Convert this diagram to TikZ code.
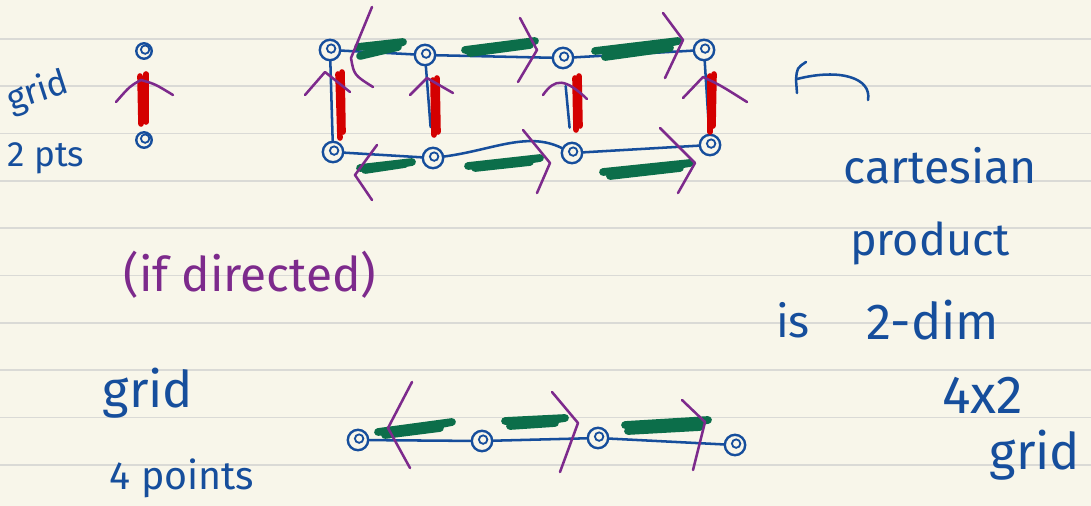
\documentclass[tikz,border=0pt]{standalone}
\usepackage{fontspec}
\setmainfont{Fira Sans}
\usepackage{tikz}
\usetikzlibrary{calc}
\definecolor{colPaper}{RGB}{248,246,234}
\definecolor{colRule}{RGB}{218,218,214}
\definecolor{colInk}{RGB}{22,78,156}
\definecolor{colHigh}{RGB}{12,110,74}
\definecolor{colDir}{RGB}{125,42,140}
\definecolor{colMark}{RGB}{212,0,0}
\tikzset{
  vertex/.style={
    draw=colInk, circle, line width=1.7pt,
    minimum size=14.5pt, inner sep=0pt,
    path picture={\draw[colInk, line width=1.3pt]
      ([shift={(0.8pt,1pt)}]path picture bounding box.center) circle (3pt);}
  },
  edge/.style={
    draw=colInk, line width=1.8pt, line cap=round
  },
  hilite/.style={
    draw=colHigh, line width=5.5pt, line cap=round, line join=round
  },
  redmark/.style={
    draw=colMark, line width=4pt, line cap=round
  },
  dirmark/.style={
    draw=colDir, line width=1.8pt, line cap=round, line join=round
  },
  note/.style={
    text=colInk, inner sep=0pt, font=\fontsize{32}{36}\selectfont
  },
  bignote/.style={
    note, font=\fontsize{36}{40}\selectfont
  },
  smallnote/.style={
    note, font=\fontsize{25}{28}\selectfont
  },
  dirnote/.style={
    note, text=colDir, font=\fontsize{34}{38}\selectfont
  },
}

\begin{document}
\begin{tikzpicture}[x=0.025cm, y=-0.025cm]

% ── Paper ──────────────────────────────────────────────────────────────────
\useasboundingbox (0,0) rectangle (1091,506);
\fill[colPaper] (0,0) rectangle (1091,506);
\foreach \k in {0,...,9}
  \draw[colRule, line width=1.2pt] (0,{39+47.3*\k}) -- (1091,{39+47.3*\k});

% ── Nodes ──────────────────────────────────────────────────────────────────
% 2 point grid
\node[vertex, minimum size=11pt] (p1) at (144,51)  {};
\node[vertex, minimum size=11pt] (p2) at (144,140) {};

% 4x2 grid, top row
\node[vertex] (t1) at (330,50)  {};
\node[vertex] (t2) at (425,55)  {};
\node[vertex] (t3) at (563,58)  {};
\node[vertex] (t4) at (704,50)  {};
% 4x2 grid, bottom row
\node[vertex] (b1) at (333,152) {};
\node[vertex] (b2) at (433,158) {};
\node[vertex] (b3) at (572,153) {};
\node[vertex] (b4) at (710,145) {};

% 4 point grid
\node[vertex] (q1) at (358,440) {};
\node[vertex] (q2) at (482,441) {};
\node[vertex] (q3) at (598,438) {};
\node[vertex] (q4) at (735,445) {};

% ── Edges ──────────────────────────────────────────────────────────────────
\draw[edge, shorten <=14pt, shorten >=6pt] (p1) -- (p2);

\draw[edge] (t1) -- (t2);
\draw[edge] (t2) -- (t3);
\draw[edge] (t3) -- (t4);
\draw[edge] (b1) -- (b2);
\draw[edge] (b2) .. controls +(60,-8) and +(-45,-22) .. (b3);
\draw[edge] (b3) -- (b4);

\draw[edge] (t1) -- (b1);
\draw[edge, shorten >=14pt] (t2) -- (b2);
\draw[edge, shorten <=12pt, shorten >=10pt] (t3) -- (b3);
\draw[edge] (t4) -- (b4);

\draw[edge] (q1) -- (q2);
\draw[edge] (q2) -- (q3);
\draw[edge] (q3) -- (q4);

% ── Red marks (vertical) ───────────────────────────────────────────────────
\draw[redmark] (140,76) -- (141,124);
\draw[redmark] (146,74) -- (146,122);
\draw[redmark] (338,74) -- (340,138);
\draw[redmark] (342,72) -- (343,132);
\draw[redmark] (433,80) -- (434,135);
\draw[redmark] (437,78) -- (438,132);
\draw[redmark] (575,78) -- (576,130);
\draw[redmark] (579,76) -- (580,126);
\draw[redmark] (710,76) -- (710,132);
\draw[redmark] (714,74) -- (713,126);

% ── Green marks (horizontal) ───────────────────────────────────────────────
\draw[hilite] (358,47) -- (403,42) -- (360,56) -- (398,47);
\draw[hilite] (465,50) -- (535,41) -- (470,53) -- (530,45);
\draw[hilite] (595,51) -- (678,41) -- (605,57) -- (670,48);
\draw[hilite] (360,168) -- (412,162) -- (365,170) -- (405,164);
\draw[hilite] (468,166) -- (540,158) -- (475,168) -- (530,162);
\draw[hilite] (603,172) -- (690,163) -- (610,176) -- (680,168);
\draw[hilite] (378,432) -- (452,422) -- (385,435) -- (440,428);
\draw[hilite] (505,421) -- (565,418) -- (510,426) -- (555,423);
\draw[hilite] (625,425) -- (708,420) -- (628,431) -- (700,427);

% ── Purple direction marks ─────────────────────────────────────────────────
\draw[dirmark] (116,102) .. controls (130,86) .. (141,80) .. controls (155,84) .. (173,95);

\draw[dirmark] (372,7) -- (351,58) .. controls (354,75) .. (373,87);
\draw[dirmark] (520,18) -- (537,50) -- (518,82);
\draw[dirmark] (663,13) -- (683,40) -- (665,78);

\draw[dirmark] (305,95) -- (325,72) -- (350,92);
\draw[dirmark] (410,95) -- (427,78) -- (453,93);
\draw[dirmark] (543,95) .. controls (555,78) and (565,78) .. (587,99);
\draw[dirmark] (683,98) -- (703,77) .. controls (720,85) .. (747,102);

\draw[dirmark] (377,145) -- (355,175) -- (372,200);
\draw[dirmark] (523,130) -- (550,163) -- (537,193);
\draw[dirmark] (660,128) -- (695,163) -- (678,193);

\draw[dirmark] (412,382) -- (388,428) -- (410,468);
\draw[dirmark] (552,392) -- (578,423) -- (560,472);
\draw[dirmark] (682,400) -- (705,422) -- (693,470);

% ── Right hand arrow ───────────────────────────────────────────────────────
\draw[edge] (806,62) .. controls (797,68) .. (796,80) -- (797,93);
\draw[edge] (797,79) .. controls (840,68) and (872,78) .. (868,100);

% ── Texts ──────────────────────────────────────────────────────────────────
\node[smallnote, rotate=18] (gridtwo) at (38,92) {grid};
\node[smallnote] (pts) at (46,158) {2 pts};
\node[dirnote] (directed) at (250,275) {(if directed)};
\node[bignote] (gridfour) at (148,393) {grid};
\node[note, font=\fontsize{28}{32}\selectfont] (points) at (182,478) {4 points};

\node[note, font=\fontsize{33}{36}\selectfont] (cart) at (940,166) {cartesian};
\node[note] (prod) at (930,243) {product};
\node[note] (is) at (793,320) {is};
\node[bignote] (dim) at (933,320) {2-dim};
\node[note, font=\fontsize{38}{42}\selectfont] (size) at (983,395) {4x2};
\node[bignote] (gridright) at (1035,455) {grid};

\end{tikzpicture}
\end{document}
